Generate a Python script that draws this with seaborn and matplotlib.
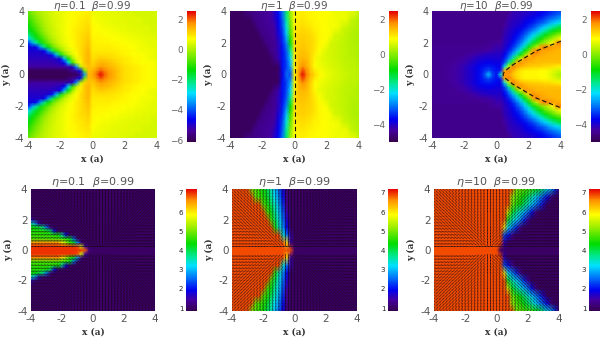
import numpy as np
import matplotlib
matplotlib.use('Agg')
import matplotlib.pyplot as plt
import seaborn as sns
from matplotlib.colors import LinearSegmentedColormap

# half planes only, rows go from y=0 up to y=4, mirrored when drawn
# top row, eta=0.1: x -4..4 step 0.25, y step 0.25
top_eta01 = [
    [-6]*13 + [-5.5,-3.5,1.4, 1.5,1.9,2.6,2.0,1.7,1.5,1.3,1.1,1,.95,.9,.85,.8,.75,.7,.65,.6],
    [-6]*10 + [-5.8,-5.5,-5.2,-4.5,-.5,1.3, 1.4,1.7,2.0,1.8,1.6,1.45,1.3,1.15,1,.95,.9,.85,.8,.75,.7,.65,.6],
    [-5.3]*10 + [-5.2,-5,-3.5,0,1.1,1.3, 1.2,1.4,1.6,1.5,1.4,1.3,1.2,1.1,1,.95,.9,.85,.8,.75,.7,.65,.6],
    [-5.2]*7 + [-5.1,-5,-4.6,-3,-1,.1,.8,1.2,1.4, 1.1,1.25,1.4,1.35,1.3,1.2,1.1,1,.9,.85,.8,.75,.7,.7,.7,.65,.6],
    [-5.1]*6 + [-5,-5,-4.7,-3.2,-1.4,-.2,.5,.9,1.2,1.4, 1,1.1,1.2,1.15,1.1,1.05,1,.95,.9,.85,.8,.75,.7,.65,.6,.55,.5],
    [-5]*5 + [-4.9,-4.5,-3.2,-1.6,-.6,0,.4,.7,1,1.2,1.4, .95,1,1,1,1,.95,.9,.85,.8,.75,.7,.7,.7,.65,.6,.55,.5],
    [-4.9]*4 + [-4.7,-3.5,-2,-1,-.4,.1,.4,.6,.8,1,1.2,1.35, .9,.9,.9,.9,.9,.9,.85,.8,.8,.75,.7,.65,.6,.6,.6,.55,.5],
    [-4.8,-4.8,-4.6,-3.5,-2.2,-1.3,-.7,-.2,.1,.35,.55,.7,.85,1,1.15,1.3, .85,.85,.85,.85,.85,.8,.8,.75,.75,.7,.7,.65,.6,.55,.55,.5,.5],
    [-4.4,-3.4,-2.4,-1.6,-1,-.6,-.2,.1,.3,.5,.65,.75,.85,1,1.1,1.25, .85,.8,.8,.8,.8,.75,.75,.7,.7,.65,.65,.6,.6,.55,.5,.45,.45],
    [-3,-2.2,-1.6,-1.1,-.7,-.3,0,.2,.4,.55,.65,.75,.85,1,1.1,1.2, .8,.8,.8,.75,.75,.7,.7,.65,.65,.6,.6,.55,.55,.5,.5,.45,.45],
    [-2.2,-1.7,-1.2,-.8,-.4,-.1,.15,.3,.45,.6,.7,.8,.9,1,1.05,1.15, .8,.75,.75,.7,.7,.65,.65,.6,.6,.55,.55,.5,.5,.45,.45,.4,.4],
    [-1.7,-1.3,-.9,-.5,-.2,.05,.2,.35,.5,.6,.7,.8,.85,.95,1,1.1, .75,.7,.7,.65,.65,.6,.6,.55,.55,.5,.5,.45,.45,.4,.4,.35,.35],
    [-1.4,-1.05,-.7,-.4,-.1,.1,.25,.4,.5,.6,.7,.75,.85,.9,.95,1.05, .75,.7,.65,.6,.6,.55,.55,.5,.5,.45,.45,.4,.4,.4,.4,.35,.35],
    [-1.2,-.85,-.5,-.25,0,.15,.3,.4,.5,.6,.7,.75,.8,.9,.95,1, .7,.65,.6,.55,.55,.5,.5,.5,.5,.45,.4,.4,.4,.35,.35,.3,.3],
    [-1,-.7,-.4,-.15,.05,.2,.3,.4,.5,.6,.65,.75,.8,.85,.9,.95, .65,.6,.6,.55,.55,.5,.5,.45,.45,.4,.4,.4,.4,.35,.35,.3,.3],
    [-.8,-.5,-.25,-.05,.1,.2,.35,.45,.5,.6,.65,.7,.75,.8,.85,.9, .6,.55,.55,.5,.5,.5,.5,.45,.4,.4,.4,.35,.35,.3,.3,.3,.3],
    [-.6,-.35,-.1,0,.15,.25,.35,.45,.5,.55,.6,.7,.75,.8,.8,.85, .6,.55,.55,.5,.5,.45,.45,.4,.4,.35,.35,.3,.3,.3,.3,.3,.3],
]
# top row, eta=1: x step 0.25, y step 0.5
top_eta1 = [
    [-4.8]*12 + [-4.7,-3.8,-3.0,-3.2,1.0,1.7,2.5,1.9,1.5,1.25,1.0,.9,.8,.7,.65,.6,.55,.5,.45,.4,.4],
    [-4.8]*13 + [-3.6,-3.3,-2.6,.9,1.5,1.8,1.6,1.3,.95,.85,.75,.7,.65,.6,.55,.5,.45,.4,.4,.35],
    [-4.8]*11 + [-4.5,-4.2,-3.6,-3.2,-2.3,1.0,1.45,1.5,1.45,1.25,1,.8,.7,.65,.6,.55,.5,.45,.4,.4,.35,.3],
    [-4.8]*10 + [-4.5,-4.4,-4.1,-3.6,-3.1,-1.6,1.1,1.35,1.4,1.35,1.25,1.1,.95,.8,.65,.6,.55,.5,.45,.4,.35,.35,.3],
    [-4.8]*9 + [-4.5,-4.45,-4.4,-4.1,-3.5,-2.8,-.9,1.1,1.3,1.35,1.3,1.25,1.15,1,.95,.85,.6,.55,.5,.45,.4,.35,.3,.3],
    [-4.8]*8 + [-4.5,-4.45,-4.4,-4.3,-3.9,-3.4,-2.4,-.5,1.05,1.25,1.3,1.25,1.2,1.1,1,.95,.9,.85,.6,.55,.5,.4,.35,.3,.3],
    [-4.8]*7 + [-4.5,-4.45,-4.4,-4.35,-4.25,-3.8,-3.2,-2,-.2,1,1.15,1.2,1.15,1.1,1,1,.95,.9,.85,.85,.8,.55,.5,.4,.35,.3],
    [-4.8]*6 + [-4.5,-4.45,-4.4,-4.35,-4.3,-4.1,-3.7,-3.1,-1.7,0,.95,1.05,1.1,1.05,1,1,.95,.95,.9,.85,.85,.8,.8,.75,.5,.4,.35],
    [-4.8]*4 + [-4.55,-4.5,-4.5,-4.45,-4.4,-4.35,-4.3,-4,-3.6,-2.9,-1.4,.2,.9,1,1.05,1,1,.95,.95,.9,.9,.85,.8,.8,.8,.75,.75,.7,.4],
]
# top row, eta=10: x step 0.25, y step 0.25
top_eta10 = [
    [-4.4]*4 + [-4.35,-4.3,-4.25,-4.2,-4.1,-4,-3.9,-3.8,-3.6,-3.2,-2.4,-3.2,-3.6, -2,1.8,1.7,1.4,1.2,1.05,1,1,1,.95,.95,.9,.8,.6,.4,.2],
    [-4.4]*4 + [-4.35,-4.3,-4.25,-4.2,-4.1,-4,-3.9,-3.8,-3.6,-3.4,-3.2,-3.4,-3.6, -3.5,1.6,1.9,1.6,1.3,1.1,1,1,1,1,.95,.95,.85,.7,.6,.5],
    [-4.4]*4 + [-4.35,-4.3,-4.25,-4.2,-4.1,-4,-3.9,-3.8,-3.65,-3.55,-3.5,-3.55,-3.65, -3.8,-2,.5,1.9,1.7,1.5,1.4,1.35,1.3,1.3,1.25,1.2,1.2,1.1,1.05,1],
    [-4.4]*5 + [-4.35,-4.3,-4.25,-4.2,-4.1,-4,-3.9,-3.8,-3.75,-3.7,-3.75,-3.8, -3.8,-3.2,-1.6,-.3,1.6,1.8,1.6,1.5,1.5,1.45,1.45,1.4,1.4,1.4,1.4,1.4],
    [-4.4]*6 + [-4.35,-4.3,-4.25,-4.2,-4.1,-4,-3.95,-3.9,-3.9,-3.9,-3.9, -3.9,-3.5,-2.8,-1.6,-.3,.6,1.8,1.7,1.6,1.5,1.5,1.5,1.5,1.5,1.5,1.5],
    [-4.4]*8 + [-4.35,-4.3,-4.25,-4.2,-4.1,-4.05,-4,-4,-3.95, -4,-3.7,-3.2,-2.6,-1.7,-.8,.1,1.3,1.8,1.7,1.6,1.55,1.5,1.5,1.5,1.5],
    [-4.4]*10 + [-4.35,-4.35,-4.3,-4.3,-4.25,-4.2,-4.1, -4.1,-3.9,-3.5,-3.1,-2.5,-1.8,-.9,-.1,1.6,1.9,1.7,1.65,1.6,1.55,1.5,1.5],
    [-4.4]*13 + [-4.35,-4.35,-4.3,-4.2, -4.2,-4,-3.8,-3.4,-3,-2.5,-1.8,-1,-.2,.4,1.7,1.9,1.8,1.7,1.6,1.6],
    [-4.45]*14 + [-4.4,-4.35,-4.3, -4.3,-4.05,-3.9,-3.6,-3.3,-2.9,-2.4,-1.8,-1.1,-.6,-.1,.2,.5,1,1.8,1.9],
    [-4.45]*17 + [-4.35,-4.1,-3.95,-3.75,-3.5,-3.2,-2.8,-2.3,-1.8,-1.2,-.8,-.3,0,.3,.6,.95],
    [-4.45]*17 + [-4.45,-4.15,-4,-3.85,-3.65,-3.4,-3.1,-2.7,-2.3,-1.9,-1.4,-1,-.6,-.3,0,.2],
    [-4.45]*17 + [-4.45,-4.2,-4.05,-3.9,-3.8,-3.6,-3.35,-3.1,-2.8,-2.5,-2.1,-1.7,-1.3,-1,-.7,-.5],
    [-4.45]*17 + [-4.45,-4.3,-4.1,-4,-3.9,-3.8,-3.6,-3.4,-3.2,-2.9,-2.6,-2.3,-2,-1.7,-1.4,-1.1],
    [-4.45]*17 + [-4.45,-4.35,-4.15,-4.05,-4,-3.9,-3.75,-3.6,-3.5,-3.3,-3.1,-2.9,-2.6,-2.4,-2.2,-1.9],
    [-4.45]*17 + [-4.45,-4.45,-4.2,-4.1,-4.05,-4,-3.85,-3.75,-3.65,-3.5,-3.4,-3.2,-3,-2.85,-2.7,-2.5],
    [-4.45]*17 + [-4.45,-4.45,-4.3,-4.15,-4.1,-4.05,-4,-3.9,-3.85,-3.75,-3.65,-3.5,-3.35,-3.2,-3.05,-2.9],
    [-4.45]*17 + [-4.45,-4.45,-4.45,-4.2,-4.15,-4.1,-4.05,-4,-3.95,-3.85,-3.75,-3.65,-3.55,-3.45,-3.3,-3.2],
]
# bottom row, eta=0.1: x step 0.25, y step 0.25
bot_eta01 = [
    [7]*14 + [6.8,1.2] + [1]*17,
    [7]*12 + [6.9,5.5,1.5,1] + [1]*17,
    [6.6]*8 + [6,5.3,4.6,4.2,2.8,1.2,1,1] + [1]*17,
    [4.7]*8 + [4.6,4.5,4.2,2.6,1,1,1,1] + [1]*17,
    [4.6]*6 + [4.5,4.4,3.6,1.9] + [1]*6 + [1]*17,
    [4.5]*4 + [4.4,3.9,2.0,1] + [1]*8 + [1]*17,
    [4.4,4.3,4.1,3.7,2.6,1.3] + [1]*10 + [1]*17,
    [3.6,2.9,1.6,1] + [1]*12 + [1]*17,
    [1.7,1.1,1,1] + [1]*12 + [1]*17,
] + [[1]*33]*8
# bottom row, eta=1: x step 0.25, y step 0.5
bot_eta1 = [
    [6.9]*16 + [1]*17,
    [6.9]*14 + [6,1.5] + [1]*17,
    [6.9]*13 + [3.5,2.6,1.5] + [1]*17,
    [6.9]*11 + [4.5,3.5,2.8,1.9,1] + [1]*17,
    [6.9]*10 + [4.7,4,3.3,2.6,1.7,1] + [1]*17,
    [6.9]*9 + [4.8,4.3,3.7,3.1,2.4,1.5,1] + [1]*17,
    [6.9]*8 + [4.8,4.5,4,3.5,2.9,2.2,1.3,1] + [1]*17,
    [6.9]*6 + [4.9,4.7,4.5,4.2,3.7,3.2,2.7,2,1.2,1] + [1]*17,
    [6.9]*5 + [5,4.8,4.6,4.4,4,3.6,3,2.5,1.8,1.1,1] + [1]*17,
]
# bottom row, eta=10: x step 0.25, y step 0.5
bot_eta10 = [
    [6.9]*17 + [1]*16,
    [6.9]*18 + [1.6] + [1]*14,
    [6.9]*18 + [2.4,2,1.4] + [1]*12,
    [6.9]*18 + [6.0,3.2,2.7,2.2,1.4] + [1]*10,
    [6.9]*19 + [4.2,3.6,3.2,2.8,2.2,1.5] + [1]*8,
    [6.9]*19 + [5.5,4.2,3.8,3.4,3,2.6,2,1.3] + [1]*6,
    [6.9]*20 + [5,4.6,4.3,3.9,3.5,3.1,2.7,2.3,1.7] + [1]*4,
    [6.9]*20 + [5.2,4.8,4.6,4.3,4,3.6,3.2,2.8,2.4,1.9,1.3,1,1],
    [6.9]*21 + [5,4.9,4.8,4.7,4.6,4.4,4.1,3.7,3.3,2.9,2.2,1.2],
]

# arrow direction in degrees, x -4..4 step 0.5, y 0..4 step 0.5
arrows_right_src = [
    [0]*17,
    [174,173,172,171,169,166,162,153,135,90,45,27,18,14,11,9,8],
    [167,166,164,162,158,153,146,135,117,90,63,45,34,27,22,18,16],
    [162,159,157,153,149,143,135,124,108,90,72,56,45,37,31,27,23],
    [156,153,150,146,141,135,127,117,104,90,76,63,53,45,39,34,30],
    [151,148,144,140,135,129,121,112,101,90,79,68,59,51,45,40,36],
    [146,143,139,135,130,124,117,108,99,90,81,72,63,56,50,45,41],
    [142,139,135,131,126,120,113,106,98,90,82,74,67,60,54,49,45],
    [138,135,131,127,122,117,111,104,97,90,83,76,69,63,58,53,49],
]
arrows_left_src = [
    [0]*17,
    [172,171,169,166,162,153,135,90,45,27,18,14,11,9,8,7,6],
    [164,162,158,153,146,135,117,90,63,45,34,27,22,18,16,14,13],
    [157,153,149,143,135,124,108,90,72,56,45,37,31,27,23,21,18],
    [150,146,141,135,127,117,104,90,76,63,53,45,39,34,30,27,24],
    [144,140,135,129,121,112,101,90,79,68,59,51,45,40,36,32,29],
    [139,135,130,124,117,108,99,90,81,72,63,56,50,45,41,37,34],
    [135,131,126,120,113,106,98,90,82,74,67,60,54,49,45,41,38],
    [131,127,122,117,111,104,97,90,83,76,69,63,58,53,49,45,42],
]

titles = [r'$\eta$=0.1  $\beta$=0.99', r'$\eta$=1  $\beta$=0.99', r'$\eta$=10  $\beta$=0.99']
shock_eta1_x = [0, 0]
shock_eta1_y = [-4, 4]
shock_eta10_x = [4, 3.5, 3, 2.5, 2, 1.5, 1, .5, .4, .5, 1, 1.5, 2, 2.5, 3, 3.5, 4]
shock_eta10_y = [2.1, 1.9, 1.7, 1.5, 1.2, .9, .6, .2, 0, -.2, -.6, -.9, -1.2, -1.5, -1.7, -1.9, -2.1]

W, H = 600, 337
cmap = LinearSegmentedColormap.from_list('idl_rainbow', [
    (0, '#36004e'), (.09, '#4400a0'), (.17, '#0000f0'), (.37, '#00e0ff'), (.45, '#00e890'),
    (.55, '#00dc00'), (.7, '#a8f000'), (.79, '#ffff00'), (.91, '#ff9000'), (1, '#e40000')])

sns.set_style('white')
fig = plt.figure(figsize=(6.0, 3.37), dpi=100)

def px_axes(x0, x1, y0, y1):
    return fig.add_axes([x0 / W, 1 - y1 / H, (x1 - x0) / W, (y1 - y0) / H])

def draw_panel(half, box, cbox, vmin, vmax, cticks, title, bottom=False):
    half = np.array(half, dtype=float)
    grid = np.vstack([half[:0:-1], half])
    ax = px_axes(*box)
    cax = px_axes(*cbox)
    sns.heatmap(grid, ax=ax, cbar_ax=cax, cmap=cmap, vmin=vmin, vmax=vmax,
                shading='gouraud', xticklabels=False, yticklabels=False)
    nr, nc = grid.shape
    ax.set_xlim(0, nc - 1)
    ax.set_ylim(0, nr - 1)
    ticks = [-4, -2, 0, 2, 4]
    ax.set_xticks([(t + 4) / 8 * (nc - 1) for t in ticks])
    ax.set_yticks([(t + 4) / 8 * (nr - 1) for t in ticks])
    ax.set_xticklabels(ticks)
    ax.set_yticklabels(ticks)
    ax.tick_params(length=0, labelsize=7.5 if bottom else 7, labelcolor='#555555', pad=2.5)
    ax.set_xlabel('x (a)', fontsize=6.5, family='DejaVu Serif', weight='bold', color='#333333', labelpad=2)
    ax.set_ylabel('y (a)', fontsize=6.5, family='DejaVu Serif', weight='bold', color='#333333', labelpad=3)
    ax.set_title(title, fontsize=8 if bottom else 7.5, color='#555555', pad=1.5 if not bottom else 3)
    cb = ax.collections[0].colorbar
    cb.set_ticks(cticks)
    cb.ax.yaxis.set_ticks_position('left')
    if bottom:
        cb.ax.tick_params(length=0, labelsize=5, labelcolor='#222222', pad=2)
    else:
        cb.ax.tick_params(length=0, labelsize=6.5, labelcolor='#666666', pad=3)
    return ax, nc, nr

def draw_arrows(ax, nc, nr, table):
    table = np.array(table, dtype=float)
    xs = np.arange(-4, 4.01, .2)
    ys = np.arange(-4, 4.01, .2)
    gx, gy = np.meshgrid(xs, ys)
    cols = np.round((gx + 4) / .5).astype(int)
    rows = np.round(np.abs(gy) / .5).astype(int)
    ang = np.radians(table[rows, cols]) * np.where(gy < 0, -1, 1)
    ax.quiver((gx + 4) / 8 * (nc - 1), (gy + 4) / 8 * (nr - 1), np.cos(ang), np.sin(ang),
              angles='uv', pivot='mid', units='dots', scale_units='dots', scale=.26,
              width=.9, headwidth=1, headlength=0, headaxislength=0,
              color='#180818', alpha=.6)

def draw_dash(ax, nc, nr, xs, ys):
    ax.plot([(x + 4) / 8 * (nc - 1) for x in xs], [(y + 4) / 8 * (nr - 1) for y in ys],
            color='#111111', lw=.8, ls=(0, (4, 2.5)))

tk_a = [-6, -4, -2, 0, 2]
tk_b = [-4, -2, 0, 2]
tk_c = [1, 2, 3, 4, 5, 6, 7]

draw_panel(top_eta01, (28, 157, 11, 138), (187, 196, 11, 142), -6.13, 2.53, tk_a, titles[0])
ax, nc, nr = draw_panel(top_eta1, (230, 359, 11, 138), (389, 398, 11, 142), -4.97, 2.5, tk_b, titles[1])
draw_dash(ax, nc, nr, shock_eta1_x, shock_eta1_y)
ax, nc, nr = draw_panel(top_eta10, (432, 561, 11, 138), (591, 604, 11, 142), -4.97, 2.5, tk_b, titles[2])
draw_dash(ax, nc, nr, shock_eta10_x, shock_eta10_y)

ax, nc, nr = draw_panel(bot_eta01, (31, 155, 189, 311), (186, 197, 189, 311), .85, 7.2, tk_c, titles[0], True)
draw_arrows(ax, nc, nr, arrows_right_src)
ax, nc, nr = draw_panel(bot_eta1, (232, 357, 189, 311), (388, 398, 189, 311), .85, 7.2, tk_c, titles[1], True)
draw_arrows(ax, nc, nr, arrows_left_src)
ax, nc, nr = draw_panel(bot_eta10, (434, 559, 189, 311), (589, 604, 189, 311), .85, 7.2, tk_c, titles[2], True)
draw_arrows(ax, nc, nr, arrows_left_src)

fig.savefig('out.png', dpi=100)
